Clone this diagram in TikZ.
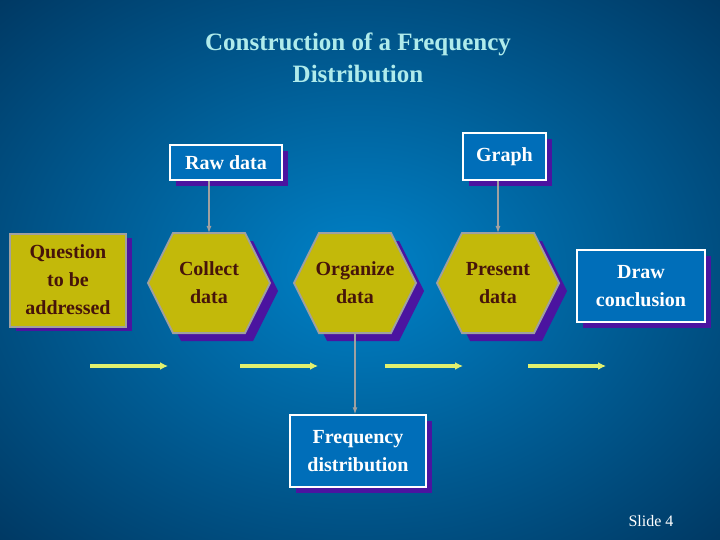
\documentclass[tikz,border=0pt]{standalone}
\usepackage{fontspec}
\setmainfont{Liberation Serif}
\usetikzlibrary{arrows.meta,calc}
\definecolor{bgin}{RGB}{0,130,200}
\definecolor{bgout}{RGB}{0,50,90}
\definecolor{boxblue}{RGB}{0,110,185}
\definecolor{olive}{RGB}{195,185,10}
\definecolor{shad}{RGB}{75,20,160}
\definecolor{txtbrown}{RGB}{70,20,10}
\definecolor{titlec}{RGB}{175,235,235}
\definecolor{arrowy}{RGB}{225,240,110}
\definecolor{bordg}{RGB}{160,160,160}
\tikzset{
  lbl/.style={font=\fontsize{20}{28}\selectfont\bfseries, align=center},
  bluebox/.style={draw=white, line width=1.5pt, fill=boxblue},
  yelbox/.style={draw=bordg, line width=2pt, fill=olive},
  shadowbox/.style={fill=shad},
  gconn/.style={draw=bordg, line width=1.2pt, -{Latex[length=7pt,width=5pt]}},
  yarrow/.style={draw=arrowy, line width=3.5pt, -{Latex[length=8pt,width=8pt]}}
}
\newcommand{\hexat}[3]{%
  \fill[shad] ($(#1,#2)+(8,8)$) ++(-61,0) -- ++(25,-50) -- ++(72,0) -- ++(25,50) -- ++(-25,50) -- ++(-72,0) -- cycle;
  \draw[yelbox] (#1,#2) ++(-61,0) -- ++(25,-50) -- ++(72,0) -- ++(25,50) -- ++(-25,50) -- ++(-72,0) -- cycle;
  \coordinate (#3t) at (#1,#2-50);
  \coordinate (#3b) at (#1,#2+50);
}
\begin{document}
\begin{tikzpicture}[x=1pt,y=-1pt]
\useasboundingbox (0,0) rectangle (720,540);
\fill[bgout] (0,0) rectangle (720,540);
\shade[inner color=bgin, outer color=bgout] (-200,-150) rectangle (920,690);
\node[font=\fontsize{25}{32}\selectfont\bfseries, text=titlec, align=center] (title) at (358,58) {Construction of a Frequency\\Distribution};
% Raw data
\fill[shadowbox] (176,151) rectangle (288,186);
\node[bluebox, lbl, text=white, minimum width=112pt, minimum height=35pt, inner sep=0pt] (raw) at (226,162.5) {Raw data};
% Graph
\fill[shadowbox] (469,139) rectangle (552,186);
\node[bluebox, lbl, text=white, minimum width=83pt, minimum height=47pt, inner sep=0pt] (graph) at (504.5,156.5) {Graph};
% Question
\fill[shadowbox] (16,238) rectangle (132,331);
\node[yelbox, lbl, text=txtbrown, minimum width=116pt, minimum height=93pt, inner sep=0pt] (question) at (68,280) {Question\\to be\\addressed};
% Hexagons
\hexat{209}{283}{collect}
\node[lbl, text=txtbrown] (collect) at (209,283) {Collect\\data};
\hexat{355}{283}{organize}
\node[lbl, text=txtbrown] (organize) at (355,283) {Organize\\data};
\hexat{498}{283}{present}
\node[lbl, text=txtbrown] (present) at (498,283) {Present\\data};
% Draw conclusion
\fill[shadowbox] (583,256) rectangle (711,328);
\node[bluebox, lbl, text=white, minimum width=128pt, minimum height=72pt, inner sep=0pt] (conclusion) at (641,286) {Draw\\conclusion};
% Frequency
\fill[shadowbox] (296,421) rectangle (432,493);
\node[bluebox, lbl, text=white, minimum width=136pt, minimum height=72pt, inner sep=0pt] (freq) at (358,451) {Frequency\\distribution};
% connectors
\draw[gconn] (raw.south -| collectt) -- (collectt);
\draw[gconn] (graph.south -| presentt) -- (presentt);
\draw[gconn] (organizeb) -- (freq.north -| organizeb);
% yellow arrows
\coordinate (a1) at (90,366); \coordinate (a2) at (168,366);
\coordinate (b1) at (240,366); \coordinate (b2) at (318,366);
\coordinate (c1) at (385,366); \coordinate (c2) at (463,366);
\coordinate (d1) at (528,366); \coordinate (d2) at (606,366);
\draw[yarrow] (a1) -- (a2);
\draw[yarrow] (b1) -- (b2);
\draw[yarrow] (c1) -- (c2);
\draw[yarrow] (d1) -- (d2);
\node[text=white, font=\fontsize{16}{18}\selectfont] (slide) at (651,521) {Slide 4};
\end{tikzpicture}
\end{document}
